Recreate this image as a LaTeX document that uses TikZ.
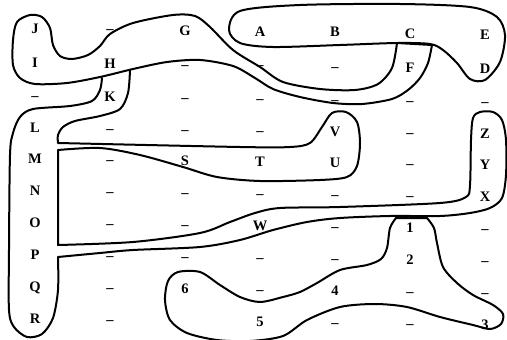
\documentclass[tikz,border=0pt]{standalone}
\usepackage{fontspec}
\setmainfont{Liberation Serif}
\begin{document}
\begin{tikzpicture}[
    x=1pt, y=-1pt,
    cell/.style={font=\bfseries\fontsize{14.5}{16}\selectfont, inner sep=0pt,
                 text height=10pt, text depth=0pt},
    blob/.style={line width=2pt, line join=round, line cap=round},
  ]
    \useasboundingbox (0,0) rectangle (507,340);

    % Letter grid, one row at a time
    \foreach \t [count=\c] in {J,–,G,A,B,C,E}
      \node[cell] (r1c\c) at ({35+75*(\c-1)}, {28+\c-1}) {\t};
    \foreach \t [count=\c] in {I,H,–,–,–,F,D}
      \node[cell] (r2c\c) at ({35+75*(\c-1)}, {62+\c-1}) {\t};
    \foreach \t [count=\c] in {–,K,–,–,–,–,–}
      \node[cell] (r3c\c) at ({35+75*(\c-1)}, {95+\c-1}) {\t};
    \foreach \t [count=\c] in {L,–,–,–,V,–,Z}
      \node[cell] (r4c\c) at ({35+75*(\c-1)}, {127+\c-1}) {\t};
    \foreach \t [count=\c] in {M,–,S,T,U,–,Y}
      \node[cell] (r5c\c) at ({35+75*(\c-1)}, {158+\c-1}) {\t};
    \foreach \t [count=\c] in {N,–,–,–,–,–,X}
      \node[cell] (r6c\c) at ({35+75*(\c-1)}, {190+\c-1}) {\t};
    \foreach \t [count=\c] in {O,–,–,W,–,1,–}
      \node[cell] (r7c\c) at ({35+75*(\c-1)}, {222+\c-1}) {\t};
    \foreach \t [count=\c] in {P,–,–,–,–,2,–}
      \node[cell] (r8c\c) at ({35+75*(\c-1)}, {254+\c-1}) {\t};
    \foreach \t [count=\c] in {Q,–,6,–,4,–,–}
      \node[cell] (r9c\c) at ({35+75*(\c-1)}, {286+\c-1}) {\t};
    \foreach \t/\c in {R/1,–/2,5/4,–/5,–/6,3/7}
      \node[cell] (r10c\c) at ({35+75*(\c-1)}, {318+\c-1}) {\t};

    % A--E loop
    \draw[blob] plot[smooth cycle] coordinates {(229,30) (240,11) (300,5) (400,4)
      (470,7) (497,17) (505,35) (500,62) (485,80) (470,79) (457,63) (443,50)
      (430,44) (397,43) (340,45) (273,47) (240,43)};

    % J--G tongue, ending at C
    \draw[blob] plot[smooth] coordinates {(432,45) (428,63) (420,78) (408,90)
      (392,99) (362,104) (333,103) (300,97) (273,89) (255,78) (233,66) (200,60)
      (167,62) (133,69) (100,77) (67,83) (35,84) (20,78) (13,65) (13,40) (17,22)
      (30,15) (42,17) (50,28) (53,45) (60,56) (72,59) (88,55) (100,46) (110,34)
      (133,23) (173,15) (195,16) (210,27) (233,50) (260,67) (283,82) (320,89)
      (355,90) (378,84) (392,68) (397,43)} -- cycle;

    % K, the left column and its two arms
    \draw[blob] plot[smooth] coordinates {(102,78) (100,90) (92,101) (70,106)
      (33,109) (20,117) (13,133) (10,155) (9,250) (9,310) (14,327) (27,337)
      (42,334) (53,318) (58,290) (58,257)}
      -- plot[smooth] coordinates {(58,257) (100,253) (133,250) (200,247)
      (240,240) (273,230) (307,222) (340,218) (390,216) (440,216) (470,213)
      (490,208) (502,198) (506,175) (506,140) (502,120) (493,112) (480,112)
      (473,118) (471,140) (470,185) (466,197) (440,203) (340,207) (280,208)
      (255,213) (230,222) (200,233) (133,242) (58,245)}
      -- plot[smooth] coordinates {(58,150) (100,148) (140,155) (183,167)
      (217,177) (260,181) (320,180) (347,177) (357,166) (360,143) (357,122)
      (346,112) (332,113) (322,127) (310,143) (290,147) (240,147) (58,143)}
      -- plot[smooth] coordinates {(58,143) (58,135) (63,127) (75,121)
      (100,116) (120,109) (128,93) (130,70)};

    % 1--6--3 region
    \draw[blob] plot[smooth] coordinates {(427,218) (434,228) (437,243)
      (443,267) (457,283) (473,295) (493,305) (503,314) (501,324) (490,329)
      (473,325) (440,317) (407,307) (375,304) (340,307) (307,320) (283,336)
      (250,341) (217,340) (187,333) (170,320) (165,300) (168,281) (178,272)
      (200,272) (220,285) (240,297) (260,302) (283,297) (300,292) (317,283)
      (340,270) (367,265) (381,259) (387,248) (390,228) (396,218)} -- cycle;
  \end{tikzpicture}
\end{document}
